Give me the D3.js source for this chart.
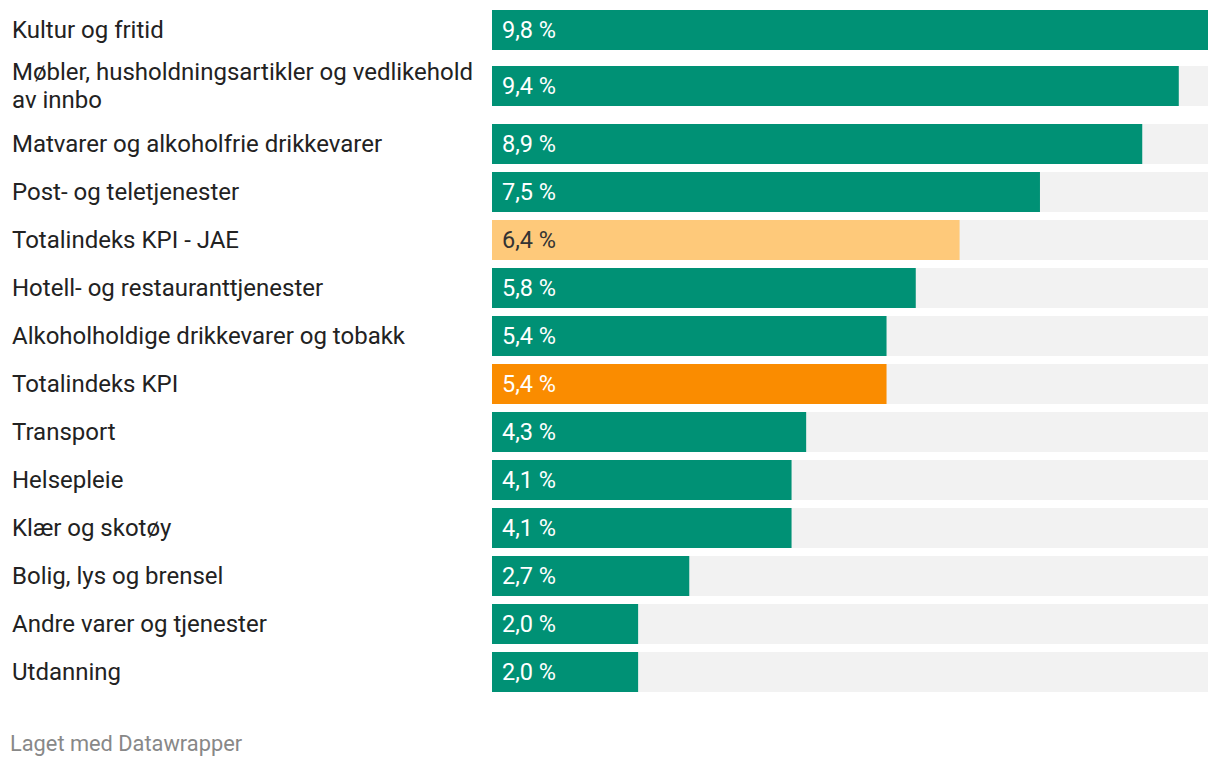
<!DOCTYPE html>
<html>
<head>
<meta charset="utf-8">
<script src="https://cdn.jsdelivr.net/npm/d3@7"></script>
<style>
  html, body { margin: 0; padding: 0; background: #fff; }
  svg { display: block; }
  text { font-family: Roboto, "Noto Sans", sans-serif; }
</style>
</head>
<body>
<svg id="chart" width="1220" height="768"></svg>
<script>
const categories = [
  ["Kultur og fritid"],
  ["Møbler, husholdningsartikler og vedlikehold", "av innbo"],
  ["Matvarer og alkoholfrie drikkevarer"],
  ["Post- og teletjenester"],
  ["Totalindeks KPI - JAE"],
  ["Hotell- og restauranttjenester"],
  ["Alkoholholdige drikkevarer og tobakk"],
  ["Totalindeks KPI"],
  ["Transport"],
  ["Helsepleie"],
  ["Klær og skotøy"],
  ["Bolig, lys og brensel"],
  ["Andre varer og tjenester"],
  ["Utdanning"]
];
const values = [9.8, 9.4, 8.9, 7.5, 6.4, 5.8, 5.4, 5.4, 4.3, 4.1, 4.1, 2.7, 2.0, 2.0];
const highlight = ["", "", "", "", "light", "", "", "strong", "", "", "", "", "", ""];
const footer = "Laget med Datawrapper";

const colors = { "": "#009175", light: "#fec97a", strong: "#fa8c00" };
const textColors = { "": "#ffffff", light: "#333333", strong: "#ffffff" };

const svg = d3.select("#chart");
const barLeft = 492, barRight = 1208;
const x = d3.scaleLinear().domain([0, d3.max(values)]).range([barLeft, barRight]);

const loc = d3.formatLocale({ decimal: ",", thousands: " ", grouping: [3], currency: ["", " kr"] });
const fmt = loc.format(".1f");

const barH = 40, gap = 8, lineH = 28;
let yPos = 2;
const rows = categories.map((lines, i) => {
  const rowH = Math.max(barH, lines.length * lineH + 2);
  const top = yPos + gap;
  yPos = top + rowH;
  const mid = top + rowH / 2 - (lines.length > 1 ? 1 : 0);
  return { lines, value: values[i], hl: highlight[i], top, rowH, mid };
});

const g = svg.append("g");
const row = g.selectAll("g.row").data(rows).join("g").attr("class", "row");

row.append("rect")
  .attr("x", x(0)).attr("width", x(d3.max(values)) - x(0))
  .attr("y", d => d.mid - barH / 2).attr("height", barH)
  .attr("fill", "#f2f2f2");

row.append("rect")
  .attr("x", x(0)).attr("width", d => x(d.value) - x(0))
  .attr("y", d => d.mid - barH / 2).attr("height", barH)
  .attr("fill", d => colors[d.hl]);

row.append("text")
  .attr("x", x(0) + 10)
  .attr("y", d => d.mid)
  .attr("dy", "0.35em")
  .attr("font-size", 23.5)
  .attr("fill", d => textColors[d.hl])
  .text(d => fmt(d.value) + " %");

row.append("text")
  .attr("x", 12)
  .attr("font-size", 24)
  .attr("fill", "#222222")
  .each(function(d) {
    const t = d3.select(this);
    const n = d.lines.length;
    d.lines.forEach((ln, k) => {
      t.append("tspan")
        .attr("x", 12)
        .attr("y", d.mid + (k - (n - 1) / 2) * lineH)
        .attr("dy", "0.35em")
        .text(ln);
    });
  });

svg.append("text")
  .attr("x", 10).attr("y", 751)
  .attr("font-size", 21.8)
  .attr("fill", "#888888")
  .text(footer);
</script>
</body>
</html>
